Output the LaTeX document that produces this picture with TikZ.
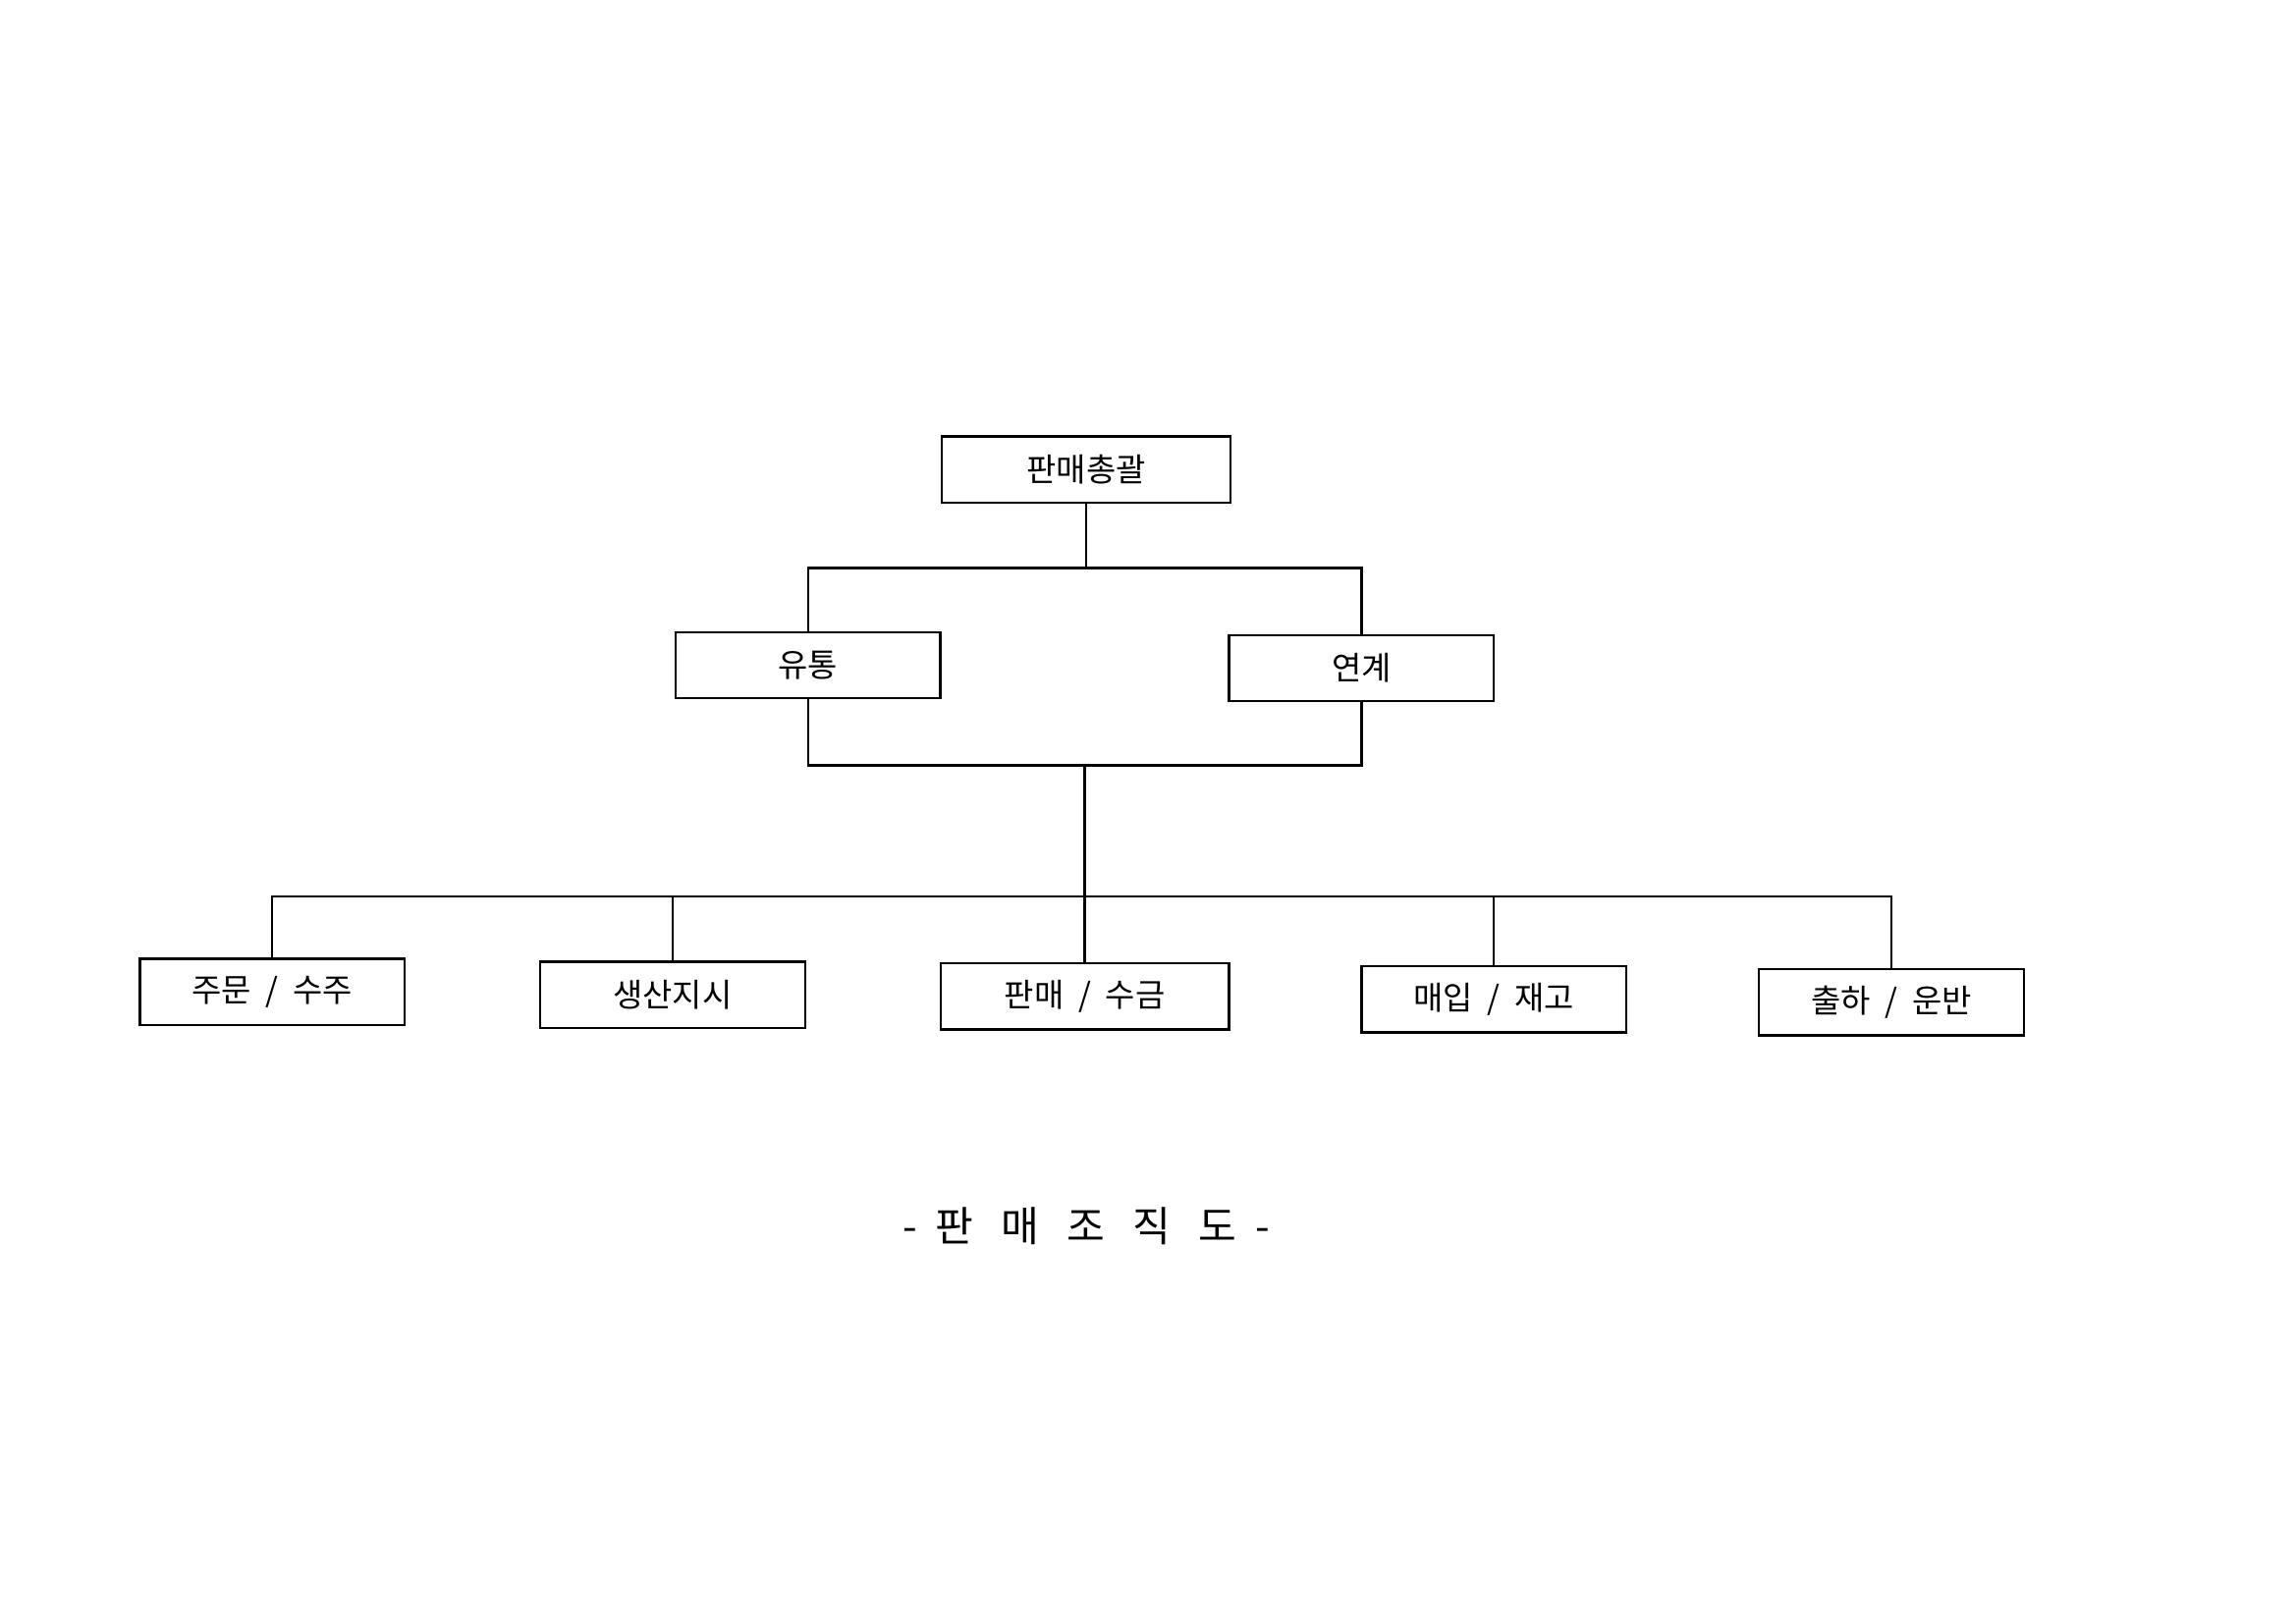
\documentclass[tikz,border=0pt]{standalone}
\usepackage{fontspec}
\setmainfont{Noto Sans CJK KR}
\begin{document}
\begin{tikzpicture}[x=0.02cm,y=-0.02cm,
  box/.style={draw,line width=0.9pt,minimum width=3.6cm,minimum height=0.9cm,inner sep=0pt,font=\fontsize{12.5}{14}\selectfont},
  wide/.style={box,minimum width=3.92cm},
  ln/.style={line width=0.9pt}]
\useasboundingbox (0,0) rectangle (1560,1103);
\node[wide] (top) at (738,319) {판매총괄};
\node[box] (yt) at (549,452) {유통};
\node[box] (yg) at (925,454) {연계};
\node[box] (b1) at (185,674) {주문\ \ /\ \ 수주};
\node[box] (b2) at (457,676) {생산지시};
\node[wide] (b3) at (737,677) {판매\ \ /\ \ 수금};
\node[box] (b4) at (1015,679) {매입\ \ /\ \ 재고};
\node[box] (b5) at (1285,681) {출하\ \ /\ \ 운반};
\coordinate (j1) at (738,386);
\coordinate (j2) at (737,520);
\coordinate (j3) at (737,609);
\draw[ln] (top.south) -- (j1);
\draw[ln] (yt.north) |- (j1) -| (yg.north);
\draw[ln] (yt.south) |- (j2) -| (yg.south);
\draw[ln] (j2) -- (b3.north);
\draw[ln] (b1.north) |- (j3) -| (b5.north);
\draw[ln] (b2.north) -- (b2.north |- j3);
\draw[ln] (b4.north) -- (b4.north |- j3);
\node[font=\fontsize{16}{18}\selectfont] (title) at (738,833) {-\ \ 판\ \ \ 매\ \ \ 조\ \ \ 직\ \ \ 도\ \ -};
\end{tikzpicture}
\end{document}
